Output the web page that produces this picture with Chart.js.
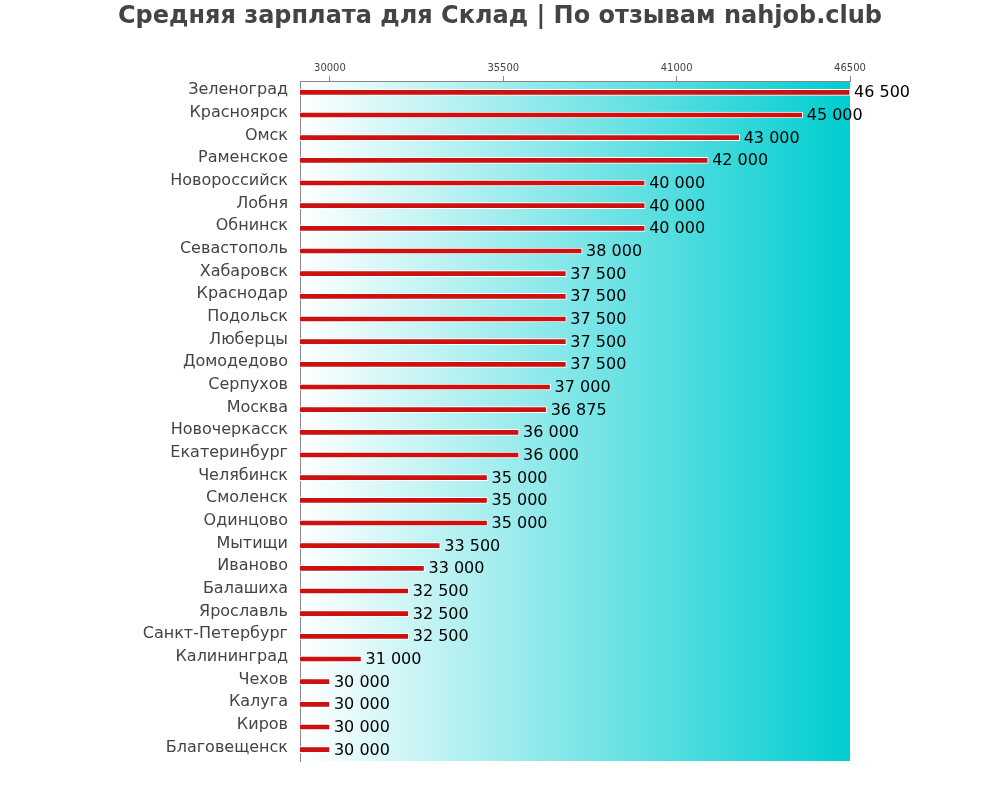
<!DOCTYPE html>
<html>
<head>
<meta charset="utf-8">
<script src="https://cdn.jsdelivr.net/npm/chart.js@4/dist/chart.umd.min.js"></script>
<style>
  html, body { margin: 0; padding: 0; background: #fff; }
  #wrap { width: 1000px; height: 800px; }
</style>
</head>
<body>
<div id="wrap"><canvas id="c" width="1000" height="800"></canvas></div>
<script>
// Data
var cities = ['Зеленоград', 'Красноярск', 'Омск', 'Раменское', 'Новороссийск', 'Лобня', 'Обнинск',
  'Севастополь', 'Хабаровск', 'Краснодар', 'Подольск', 'Люберцы', 'Домодедово', 'Серпухов', 'Москва',
  'Новочеркасск', 'Екатеринбург', 'Челябинск', 'Смоленск', 'Одинцово', 'Мытищи', 'Иваново', 'Балашиха',
  'Ярославль', 'Санкт-Петербург', 'Калининград', 'Чехов', 'Калуга', 'Киров', 'Благовещенск'];
var salaries = [46500, 45000, 43000, 42000, 40000, 40000, 40000, 38000, 37500, 37500, 37500, 37500, 37500,
  37000, 36875, 36000, 36000, 35000, 35000, 35000, 33500, 33000, 32500, 32500, 32500, 31000,
  30000, 30000, 30000, 30000];
var xTicks = [30000, 35500, 41000, 46500];
var xMin = 29050, xMax = 46500;
var titleText = 'Средняя зарплата для Склад | По отзывам nahjob.club';

function fmt(v) {
  return String(v).replace(/\B(?=(\d{3})+(?!\d))/g, ' ');
}

// gradient behind the bars + title centred on the page
var bgPlugin = {
  id: 'bgGrad',
  beforeDraw: function (chart) {
    var a = chart.chartArea, ctx = chart.ctx;
    var g = ctx.createLinearGradient(a.left, 0, a.right, 0);
    g.addColorStop(0, '#ffffff');
    g.addColorStop(1, '#00cdd0');
    ctx.save();
    ctx.fillStyle = g;
    ctx.fillRect(a.left, a.top, a.right - a.left, a.bottom - a.top);
    ctx.font = 'bold 24px "DejaVu Sans"';
    ctx.fillStyle = '#444';
    ctx.textAlign = 'center';
    ctx.textBaseline = 'middle';
    ctx.fillText(titleText, 500, 17);
    ctx.restore();
  }
};

// value labels at bar ends
var labelPlugin = {
  id: 'valLabels',
  afterDatasetsDraw: function (chart) {
    var ctx = chart.ctx;
    var meta = chart.getDatasetMeta(0);
    ctx.save();
    ctx.font = '16px "DejaVu Sans"';
    ctx.fillStyle = '#000';
    ctx.textBaseline = 'middle';
    meta.data.forEach(function (bar, i) {
      ctx.fillText(fmt(salaries[i]), bar.x + 4, bar.y + 1);
    });
    ctx.restore();
  }
};

new Chart(document.getElementById('c'), {
  type: 'bar',
  data: {
    labels: cities,
    datasets: [{
      data: salaries,
      backgroundColor: '#cc1111',
      borderColor: '#ffffff',
      borderWidth: 1,
      borderSkipped: false,
      barThickness: 6
    }]
  },
  options: {
    indexAxis: 'y',
    responsive: false,
    animation: false,
    layout: { padding: { left: 0, right: 150, top: 60, bottom: 39 } },
    plugins: {
      legend: { display: false },
      tooltip: { enabled: false },
      title: { display: false }
    },
    scales: {
      x: {
        position: 'top',
        min: xMin,
        max: xMax,
        afterBuildTicks: function (s) {
          s.ticks = xTicks.map(function (v) { return { value: v }; });
        },
        ticks: {
          color: '#444',
          font: { family: 'DejaVu Sans', size: 10 },
          padding: 2,
          maxRotation: 0,
          callback: function (v) { return String(v); }
        },
        grid: { drawOnChartArea: false, tickLength: 5, color: '#888' },
        border: { color: '#888' }
      },
      y: {
        afterFit: function (s) { s.width = 300; },
        ticks: {
          color: '#444',
          font: { family: 'DejaVu Sans', size: 16 },
          padding: 12,
          labelOffset: -2,
          autoSkip: false
        },
        grid: { drawTicks: false, display: false },
        border: { color: '#888' }
      }
    }
  },
  plugins: [bgPlugin, labelPlugin]
});
</script>
</body>
</html>
